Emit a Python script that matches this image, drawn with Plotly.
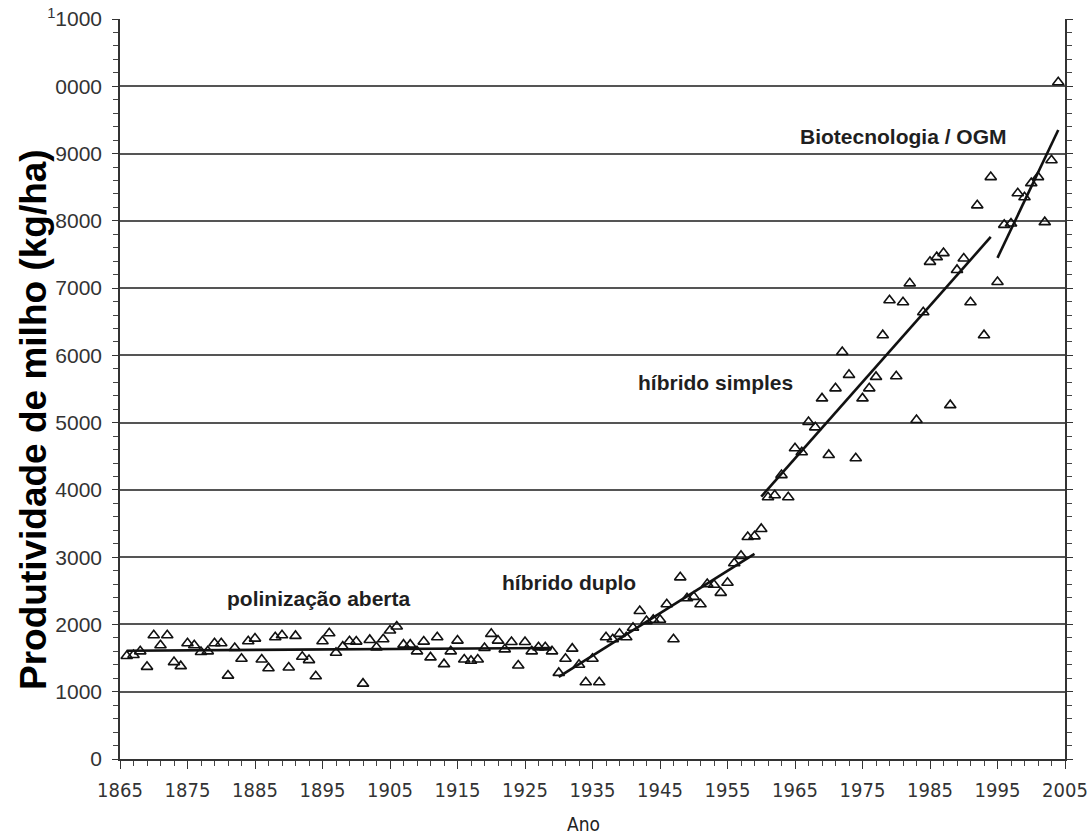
import plotly.graph_objects as go

years = list(range(1866, 2005))
yields = [
    1530, 1545, 1600, 1370, 1840, 1690, 1840, 1440, 1380, 1720,   # 1866-1875
    1690, 1590, 1600, 1720, 1720, 1240, 1650, 1490, 1750, 1790,   # 1876-1885
    1480, 1350, 1810, 1840, 1360, 1830, 1520, 1470, 1230, 1750,   # 1886-1895
    1870, 1580, 1670, 1750, 1745, 1120, 1770, 1660, 1780, 1910,   # 1896-1905
    1970, 1700, 1700, 1600, 1745, 1510, 1810, 1410, 1600, 1760,   # 1906-1915
    1480, 1460, 1480, 1650, 1860, 1760, 1630, 1740, 1390, 1740,   # 1916-1925
    1600, 1660, 1660, 1600, 1280, 1490, 1640, 1400, 1140, 1490,   # 1926-1935
    1140, 1810, 1780, 1860, 1810, 1950, 2200, 2050, 2070, 2070,   # 1936-1945
    2300, 1780, 2700, 2390, 2410, 2300, 2600, 2590, 2470, 2620,   # 1946-1955
    2910, 3020, 3300, 3310, 3420, 3890, 3920, 4220, 3890, 4620,   # 1956-1965
    4560, 5010, 4930, 5360, 4520, 5510, 6050, 5710, 4470, 5360,   # 1966-1975
    5510, 5680, 6300, 6820, 5690, 6790, 7070, 5040, 6640, 7390,   # 1976-1985
    7460, 7520, 5260, 7270, 7440, 6790, 8230, 6300, 8650, 7090,   # 1986-1995
    7940, 7960, 8410, 8350, 8560, 8650, 7980, 8900, 10060,        # 1996-2004
]

trend_open_x = [1866, 1929]
trend_open_y = [1610, 1650]
trend_double_x = [1930, 1959]
trend_double_y = [1220, 3050]
trend_single_x = [1960, 1994]
trend_single_y = [3900, 7760]
trend_bio_x = [1995, 2004]
trend_bio_y = [7450, 9350]

y_tick_vals = [0, 1000, 2000, 3000, 4000, 5000, 6000, 7000, 8000, 9000, 10000, 11000]
y_tick_text = ["0", "1000", "2000", "3000", "4000", "5000", "6000", "7000", "8000", "9000",
               "0000", "<sup>1</sup>1000"]
x_tick_vals = list(range(1865, 2006, 10))
x_tick_text = [str(v) for v in x_tick_vals]

labels = [
    ("polinização aberta", 1894.5, 2390),
    ("híbrido duplo", 1931.5, 2630),
    ("híbrido simples", 1953.2, 5590),
    ("Biotecnologia / OGM", 1981.0, 9250),
]

fig = go.Figure()

fig.add_trace(go.Scatter(
    x=years, y=yields, mode="markers",
    marker=dict(symbol="triangle-up-open", size=10, color="#111111",
                line=dict(width=1.6, color="#111111")),
    showlegend=False, hoverinfo="x+y",
))

for tx, ty in [(trend_open_x, trend_open_y), (trend_double_x, trend_double_y),
               (trend_single_x, trend_single_y), (trend_bio_x, trend_bio_y)]:
    fig.add_trace(go.Scatter(x=tx, y=ty, mode="lines",
                             line=dict(color="#111111", width=2.6),
                             showlegend=False, hoverinfo="skip"))

for txt, lx, ly in labels:
    fig.add_annotation(x=lx, y=ly, text="<b>" + txt + "</b>", showarrow=False,
                       font=dict(family="Liberation Sans, Arial, sans-serif", size=21,
                                 color="#1f1f1f"),
                       xanchor="center", yanchor="middle")

# x-axis title
fig.add_annotation(x=(583 - 120) / 945, y=(759 - 824) / 740, xref="paper", yref="paper",
                   text="Ano", showarrow=False, xanchor="center", yanchor="middle",
                   font=dict(family="DejaVu Sans Condensed, Liberation Sans, sans-serif",
                             size=19, color="#222222"))

# y-axis title
fig.add_annotation(x=(33 - 120) / 945, y=(759 - 420) / 740, xref="paper", yref="paper",
                   text="<b>Produtividade de milho (kg/ha)</b>", showarrow=False,
                   textangle=-90, xanchor="center", yanchor="middle",
                   font=dict(family="Liberation Sans, Arial, sans-serif", size=37,
                             color="#000000"))

fig.update_layout(
    width=1092, height=839,
    margin=dict(l=120, r=27, t=19, b=80),
    paper_bgcolor="white", plot_bgcolor="white",
    font=dict(family="Liberation Sans, Arial, sans-serif", color="#333333"),
)

fig.update_xaxes(
    range=[1865, 2005], tickvals=x_tick_vals, ticktext=x_tick_text,
    showgrid=False, zeroline=False, automargin=False,
    showline=True, linecolor="#333333", linewidth=1.5,
    ticks="outside", ticklen=8, tickwidth=1.3, tickcolor="#333333",
    minor=dict(tick0=1865, dtick=2, ticks="outside", ticklen=5, tickwidth=1, tickcolor="#444444"),
    tickfont=dict(family="DejaVu Sans Condensed, Liberation Sans Narrow, sans-serif",
                  size=20, color="#333333"),
    ticklabelstandoff=4,
)

fig.update_yaxes(
    range=[0, 11000], tickvals=y_tick_vals, ticktext=y_tick_text,
    showgrid=True, gridcolor="#555555", gridwidth=1.6, zeroline=False, automargin=False,
    showline=True, linecolor="#333333", linewidth=1.5, mirror="ticks",
    ticks="outside", ticklen=6, tickwidth=1.3, tickcolor="#333333",
    minor=dict(dtick=200, ticks="outside", ticklen=5, tickwidth=1, tickcolor="#444444",
               showgrid=False),
    tickfont=dict(family="Liberation Sans, Arial, sans-serif", size=21, color="#333333"),
    ticklabelstandoff=6,
)

fig.write_html("out.html", config={"displayModeBar": False},
               post_script="document.body.style.margin='0';document.body.style.overflow='hidden';")
